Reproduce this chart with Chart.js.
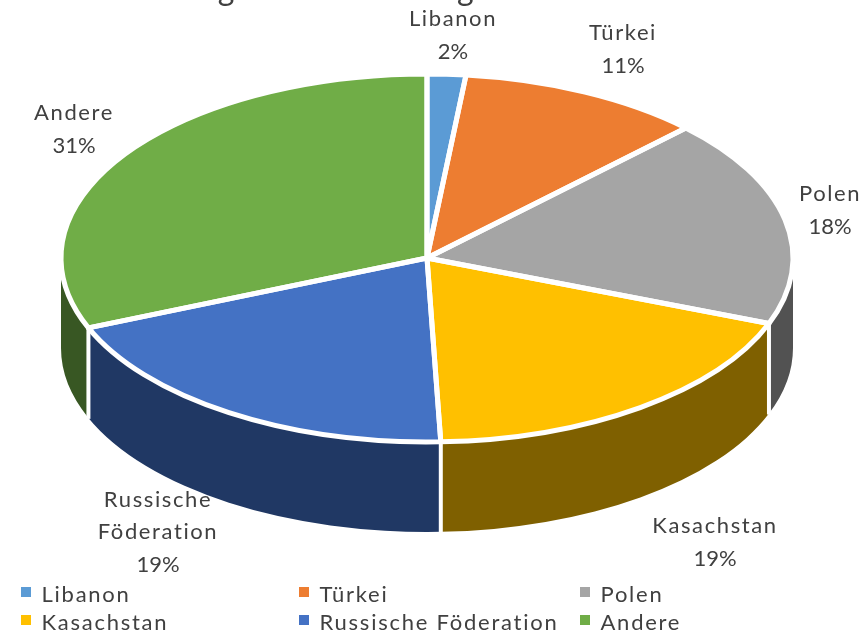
<!DOCTYPE html>
<html lang="de">
<head>
<meta charset="utf-8">
<style>html,body{margin:0;padding:0;background:#fff}canvas{display:block}</style>
<script src="https://cdn.jsdelivr.net/npm/chart.js@4"></script>
</head>
<body>
<canvas id="c" width="863" height="634"></canvas>
<script>
const categories = ['Libanon', 'Türkei', 'Polen', 'Kasachstan', 'Russische Föderation', 'Andere'];
const shares = [1.7, 10.8, 18.3, 18.6, 19.4, 31.2];
const topColors = ['#5B9BD5', '#ED7D31', '#A5A5A5', '#FFC000', '#4472C4', '#70AD47'];
const wallColors = ['#2E5B85', '#843C0C', '#525252', '#7F6000', '#203864', '#385723'];
const titleText = 'Deutsche Einfuhrmenge nach Ländern gesamt';

const ELL = {cx: 427, cy: 258, rx: 366, ry: 184, depth: 90};
const labelLayout = [
  {x: 453, y: 19, lines: ['Libanon']},
  {x: 623, y: 33, lines: ['Türkei']},
  {x: 830, y: 194, lines: ['Polen']},
  {x: 715, y: 526, lines: ['Kasachstan']},
  {x: 158, y: 500, lines: ['Russische', 'Föderation']},
  {x: 74, y: 113, lines: ['Andere']}
];
const legendLayout = [
  {x: 21, y: 587}, {x: 299, y: 587}, {x: 580, y: 587},
  {x: 21, y: 615}, {x: 299, y: 615}, {x: 580, y: 615}
];
const FONT = '22px Lato, Carlito, sans-serif';
const INK = '#404040';

const pie3d = {
  id: 'pie3d',
  beforeDatasetsDraw(chart) {
    const {ctx} = chart;
    const arcs = chart.getDatasetMeta(0).data;
    const {cx, cy, rx, ry, depth} = ELL;
    ctx.save();
    arcs.forEach((el, i) => {
      const a = Math.max(el.startAngle, 0), b = Math.min(el.endAngle, Math.PI);
      if (b <= a) return;
      ctx.beginPath();
      ctx.ellipse(cx, cy, rx, ry, 0, a, b);
      ctx.ellipse(cx, cy + depth, rx, ry, 0, b, a, true);
      ctx.closePath();
      ctx.fillStyle = wallColors[i];
      ctx.fill();
    });
    ctx.strokeStyle = '#fff';
    ctx.lineWidth = 4;
    arcs.forEach(el => {
      const t = el.startAngle;
      if (t <= 0 || t >= Math.PI) return;
      const px = cx + rx * Math.cos(t), py = cy + ry * Math.sin(t);
      ctx.beginPath();
      ctx.moveTo(px, py);
      ctx.lineTo(px, py + depth + 1);
      ctx.stroke();
    });
    ctx.restore();
    const r = arcs[0].outerRadius;
    ctx.save();
    ctx.translate(cx, cy);
    ctx.scale(rx / r, ry / r);
    ctx.translate(-arcs[0].x, -arcs[0].y);
  },
  afterDatasetsDraw(chart) {
    const {ctx} = chart;
    ctx.restore();
    const arcs = chart.getDatasetMeta(0).data;
    const {cx, cy, rx, ry} = ELL;
    const total = shares.reduce((s, v) => s + v, 0);
    ctx.save();
    ctx.strokeStyle = '#fff';
    ctx.lineWidth = 5;
    ctx.lineJoin = 'round';
    arcs.forEach(el => {
      ctx.beginPath();
      ctx.moveTo(cx, cy);
      ctx.ellipse(cx, cy, rx, ry, 0, el.startAngle, el.endAngle);
      ctx.closePath();
      ctx.stroke();
    });

    ctx.fillStyle = INK;
    ctx.textBaseline = 'middle';
    ctx.textAlign = 'center';
    labelLayout.forEach((lab, i) => {
      ctx.font = FONT;
      ctx.letterSpacing = '1.6px';
      lab.lines.forEach((t, k) => ctx.fillText(t, lab.x, lab.y + k * 32));
      ctx.letterSpacing = '0px';
      ctx.fillText(Math.round(shares[i] / total * 100) + '%', lab.x, lab.y + lab.lines.length * 32.5);
    });

    ctx.textAlign = 'left';
    ctx.textBaseline = 'alphabetic';
    categories.forEach((name, i) => {
      const p = legendLayout[i];
      ctx.fillStyle = topColors[i];
      ctx.fillRect(p.x, p.y, 10, 10);
      ctx.fillStyle = INK;
      ctx.font = FONT;
      ctx.letterSpacing = '1.75px';
      ctx.fillText(name, p.x + 20.5, p.y + 15);
    });

    ctx.letterSpacing = '0px';
    ctx.font = '32px Lato, Carlito, sans-serif';
    ctx.fillStyle = INK;
    ctx.fillText(titleText, -88, 0);
    ctx.restore();
  }
};

new Chart(document.getElementById('c'), {
  type: 'pie',
  data: {
    labels: categories,
    datasets: [{data: shares, backgroundColor: topColors, borderWidth: 0, clip: false}]
  },
  options: {
    responsive: false,
    animation: false,
    layout: {padding: 0},
    plugins: {legend: {display: false}, title: {display: false}, tooltip: {enabled: false}}
  },
  plugins: [pie3d]
});
</script>
</body>
</html>
